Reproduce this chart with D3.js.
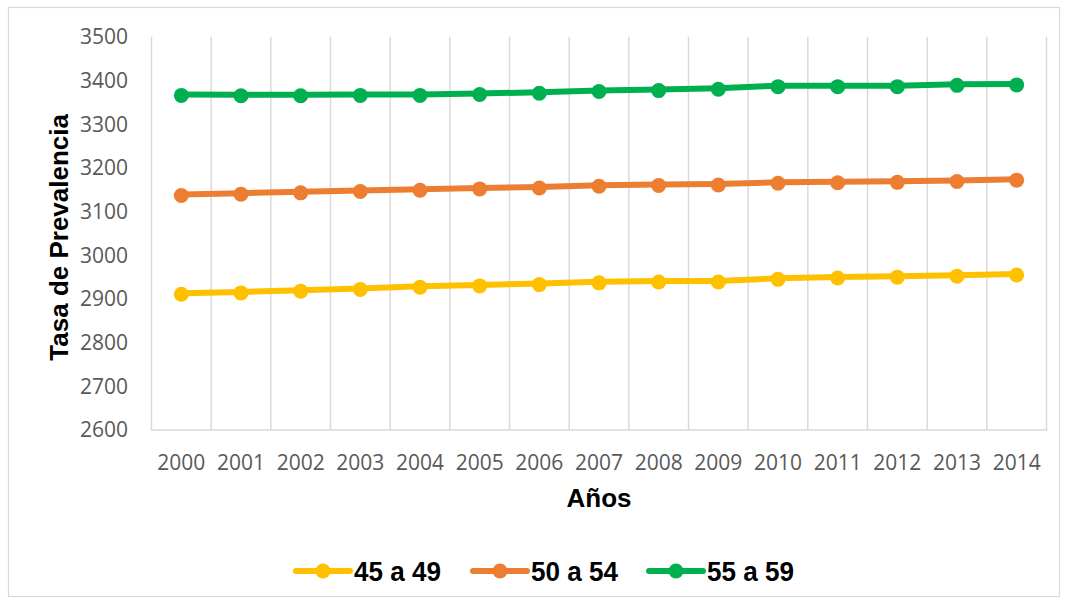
<!DOCTYPE html>
<html>
<head>
<meta charset="utf-8">
<script src="https://cdn.jsdelivr.net/npm/d3@7"></script>
<style>
  html, body { margin: 0; padding: 0; background: #fff; }
  svg { display: block; }
</style>
</head>
<body>
<svg id="chart" width="1068" height="603"></svg>
<script>
// Years on the category axis
const years = ["2000","2001","2002","2003","2004","2005","2006","2007","2008","2009","2010","2011","2012","2013","2014"];

// Prevalence rate per age group
const serie45a49 = [2913, 2916, 2920, 2924, 2929, 2932, 2935, 2939, 2941, 2941, 2947, 2950, 2952, 2954, 2957];
const serie50a54 = [3139, 3142, 3145, 3148, 3151, 3154, 3156, 3160, 3162, 3163, 3167, 3168, 3169, 3171, 3174];
const serie55a59 = [3368, 3367, 3367, 3368, 3368, 3370, 3373, 3377, 3379, 3382, 3388, 3388, 3388, 3391, 3392];

const seriesNames = ["45 a 49", "50 a 54", "55 a 59"];
const seriesColors = ["#FFC000", "#ED7D31", "#00B050"];

// Value axis ticks
const yTicks = [2600, 2700, 2800, 2900, 3000, 3100, 3200, 3300, 3400, 3500];

const series = [serie45a49, serie50a54, serie55a59].map((values, i) => ({
  name: seriesNames[i],
  color: seriesColors[i],
  values: values.map((v, j) => ({ year: years[j], value: v }))
}));

const svg = d3.select("#chart");
const plot = { left: 151.5, right: 1046.5, top: 36.7, bottom: 430 };

// Chart area border
svg.append("rect")
  .attr("x", 8.5).attr("y", 7.5)
  .attr("width", 1051).attr("height", 589)
  .attr("fill", "none").attr("stroke", "#d9d9d9").attr("stroke-width", 1.2);

const x = d3.scaleBand().domain(years).range([plot.left, plot.right]).paddingInner(0).paddingOuter(0);
const y = d3.scaleLinear().domain([2600, 3500]).range([plot.bottom, plot.top]);

// Vertical gridlines at category boundaries
const boundaries = years.map(yr => x(yr)).concat([plot.right]);
svg.append("g")
  .selectAll("line")
  .data(boundaries)
  .join("line")
  .attr("x1", d => d).attr("x2", d => d)
  .attr("y1", plot.top).attr("y2", plot.bottom)
  .attr("stroke", "#d9d9d9").attr("stroke-width", 1.5);

// Category axis line
svg.append("line")
  .attr("x1", plot.left - 0.75).attr("x2", plot.right + 0.75)
  .attr("y1", plot.bottom).attr("y2", plot.bottom)
  .attr("stroke", "#d9d9d9").attr("stroke-width", 1.5);

const tickFont = "'Open Sans', 'DejaVu Sans', sans-serif";

// Value axis labels
const yAxis = d3.axisLeft(y).tickValues(yTicks).tickSize(0).tickPadding(0).tickFormat(d3.format("d"));
const yg = svg.append("g").attr("transform", `translate(128,0)`).call(yAxis);
yg.select(".domain").remove();
yg.selectAll("text")
  .attr("font-family", tickFont).attr("font-size", 21)
  .attr("fill", "#595959").attr("x", 0).attr("dy", "0.33em");

// Category axis labels
const xAxis = d3.axisBottom(x).tickSize(0).tickPadding(0);
const xg = svg.append("g").attr("transform", `translate(0,${plot.bottom})`).call(xAxis);
xg.select(".domain").remove();
xg.selectAll("text")
  .attr("font-family", tickFont).attr("font-size", 21)
  .attr("fill", "#595959").attr("y", 39.5).attr("dy", 0);

// Axis titles
svg.append("text")
  .attr("x", (plot.left + plot.right) / 2).attr("y", 507)
  .attr("text-anchor", "middle")
  .attr("font-family", "'Liberation Sans', Arial, sans-serif")
  .attr("font-weight", "bold").attr("font-size", 26)
  .attr("fill", "#000")
  .text("Años");

svg.append("text")
  .attr("transform", `translate(68,${(plot.top + plot.bottom) / 2 + 4}) rotate(-90)`)
  .attr("text-anchor", "middle")
  .attr("font-family", "'Liberation Sans', Arial, sans-serif")
  .attr("font-weight", "bold").attr("font-size", 26)
  .attr("fill", "#000")
  .text("Tasa de Prevalencia");

// Lines and markers
const line = d3.line()
  .x(d => x(d.year) + x.bandwidth() / 2)
  .y(d => y(d.value));

const sg = svg.append("g").selectAll("g").data(series).join("g");
sg.append("path")
  .attr("d", d => line(d.values))
  .attr("fill", "none")
  .attr("stroke", d => d.color)
  .attr("stroke-width", 6)
  .attr("stroke-linecap", "round")
  .attr("stroke-linejoin", "round");
sg.selectAll("circle")
  .data(d => d.values.map(v => ({ ...v, color: d.color })))
  .join("circle")
  .attr("cx", d => x(d.year) + x.bandwidth() / 2)
  .attr("cy", d => y(d.value) + 1)
  .attr("r", 7.5)
  .attr("fill", d => d.color);

// Legend
const legendX = [295, 472, 648];
const legend = svg.append("g").selectAll("g").data(series).join("g")
  .attr("transform", (d, i) => `translate(${legendX[i]},571)`);
legend.append("line")
  .attr("x1", 1).attr("x2", 55).attr("y1", 0).attr("y2", 0)
  .attr("stroke", d => d.color).attr("stroke-width", 6)
  .attr("stroke-linecap", "round");
legend.append("circle")
  .attr("cx", 28).attr("cy", 0).attr("r", 7.5)
  .attr("fill", d => d.color);
legend.append("text")
  .attr("x", 59).attr("y", 9.5)
  .attr("font-family", "'Liberation Sans', Arial, sans-serif")
  .attr("font-weight", "bold").attr("font-size", 27)
  .attr("fill", "#000")
  .attr("textLength", 87).attr("lengthAdjust", "spacingAndGlyphs")
  .text(d => d.name);
</script>
</body>
</html>
